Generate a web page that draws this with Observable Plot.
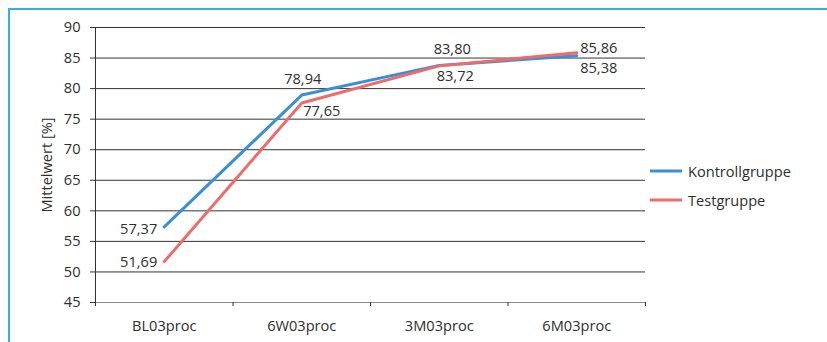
<!DOCTYPE html>
<html>
<head>
<meta charset="utf-8">
<script src="https://cdn.jsdelivr.net/npm/d3@7"></script>
<script src="https://cdn.jsdelivr.net/npm/@observablehq/plot@0.6"></script>
<style>
  body { margin: 0; background: #fff; }
  #chart { position: relative; width: 827px; height: 342px; overflow: hidden; font-family: "Open Sans", sans-serif; color: #2e2e2e; }
  #frame { position: absolute; left: 8px; top: 8px; width: 840px; height: 360px; border-top: 2px solid #35aee5; border-left: 2px solid #35aee5; pointer-events: none; }
  #plot { position: absolute; left: 0; top: 0; }
  #legend { position: absolute; left: 650px; top: 156px; font-size: 14.6px; }
  #legend .item { display: flex; align-items: center; height: 29px; }
  #legend svg { margin-right: 6px; }
</style>
</head>
<body>
<div id="chart">
  <div id="plot"></div>
  <div id="legend"></div>
  <div id="frame"></div>
</div>
<script>
const categories = ["BL03proc", "6W03proc", "3M03proc", "6M03proc"];
const kontrollValues = [57.37, 78.94, 83.80, 85.38];
const testValues = [51.69, 77.65, 83.72, 85.86];
const yTicks = [45, 50, 55, 60, 65, 70, 75, 80, 85, 90];
const seriesNames = ["Kontrollgruppe", "Testgruppe"];
const seriesColors = ["#3b8fd5", "#ef6b6b"];

// one row per point; x is the category index
const rows = [
  ...categories.map((c, i) => ({i, category: c, value: kontrollValues[i], series: seriesNames[0]})),
  ...categories.map((c, i) => ({i, category: c, value: testValues[i], series: seriesNames[1]}))
];

// where each value label sits relative to its point
const placement = {
  Kontrollgruppe: [
    {anchor: "end", dx: -7, dy: 2},
    {anchor: "middle", dx: 1, dy: -16},
    {anchor: "middle", dx: 13, dy: -16.5},
    {anchor: "middle", dx: 22, dy: 12.6}
  ],
  Testgruppe: [
    {anchor: "end", dx: -7, dy: 1},
    {anchor: "middle", dx: 20, dy: 8},
    {anchor: "middle", dx: 16, dy: 10},
    {anchor: "middle", dx: 22, dy: -4}
  ]
};

const textColor = "#2e2e2e";
const fontSize = 14.6;
const fmt = v => d3.format(".2f")(v).replace(".", ",");
const boundaries = d3.range(categories.length + 1).map(k => k - 0.5);

const labelMarks = rows.map(r => {
  const p = placement[r.series][r.i];
  return Plot.text([r], {
    x: "i", y: "value", text: d => fmt(d.value),
    textAnchor: p.anchor, dx: p.dx, dy: p.dy,
    fill: textColor, fontSize
  });
});

const chart = Plot.plot({
  width: 827,
  height: 342,
  marginLeft: 95,
  marginRight: 182,
  marginTop: 27,
  marginBottom: 40,
  style: {fontFamily: "'Open Sans', sans-serif", fontSize: fontSize + "px", color: textColor, background: "transparent", overflow: "visible"},
  x: {domain: [-0.5, categories.length - 0.5]},
  y: {domain: [45, 90]},
  color: {domain: seriesNames, range: seriesColors},
  marks: [
    Plot.ruleY(yTicks.filter(t => t > 45), {stroke: "#333", strokeWidth: 1}),
    Plot.ruleY([45], {stroke: "#8a8a8a", strokeWidth: 1}),
    Plot.ruleX([-0.5], {stroke: "#333", strokeWidth: 1}),
    Plot.axisY({
      ticks: yTicks, tickSize: 5, tickPadding: 10, stroke: "#333",
      label: "Mittelwert [%]", labelAnchor: "center", labelArrow: "none", labelOffset: 54,
      fill: textColor, fontSize
    }),
    Plot.axisX({ticks: boundaries, tickSize: 4, tickFormat: () => "", stroke: "#333", label: null}),
    Plot.axisX({
      ticks: d3.range(categories.length), tickSize: 0, tickPadding: 18,
      tickFormat: i => categories[i], label: null, fill: textColor, fontSize
    }),
    Plot.line(rows, {x: "i", y: "value", z: "series", stroke: "series", strokeWidth: 3, strokeLinejoin: "miter"}),
    ...labelMarks
  ]
});
document.getElementById("plot").appendChild(chart);

// legend to the right of the plot
const legend = d3.select("#legend");
seriesNames.forEach((name, k) => {
  const item = legend.append("div").attr("class", "item");
  const sw = item.append("svg").attr("width", 32).attr("height", 6);
  sw.append("line").attr("x1", 0).attr("x2", 32).attr("y1", 3).attr("y2", 3)
    .attr("stroke", seriesColors[k]).attr("stroke-width", 3);
  item.append("span").text(name);
});
</script>
</body>
</html>
